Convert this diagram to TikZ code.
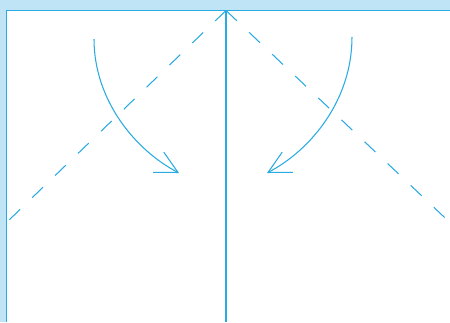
\documentclass[tikz,border=0pt]{standalone}
\usetikzlibrary{arrows.meta}

\definecolor{ciel}{HTML}{29ABE2}
\definecolor{pale}{HTML}{BEE4F6}

\begin{document}
\begin{tikzpicture}[x=0.02cm,y=-0.02cm,
  trait/.style={ciel,line width=0.6pt},
  pointille/.style={trait,dash pattern=on 8.5pt off 9.6pt},
  fleche/.style={trait,-{Straight Barb[length=12.5pt,width=13pt,line width=0.6pt]}}]

\useasboundingbox (0,0) rectangle (450,322);

% Bandes
\fill[pale] (0,0) rectangle (450,10.5);
\fill[pale] (0,0) rectangle (6.5,322);

% Cadre
\draw[ciel,line width=1.1pt] (6.5,322) -- (6.5,10.5) -- (450,10.5);

% Sommet et axe vertical
\coordinate (sommet) at (226,10.5);
\coordinate (bas) at (226,322);
\draw[trait] (sommet) -- (bas);

% Pointilles
\coordinate (gauche) at (6.5,222.5);
\coordinate (droite) at (450,222.6);
\draw[pointille] (sommet) -- (gauche);
\draw[pointille] (sommet) -- (droite);

% Rotation gauche
\coordinate (departG) at (94,39);
\coordinate (pointeG) at (179,173);
\draw[fleche] (departG)
.. controls (94,100) and (135,150)
.. (pointeG);

% Rotation droite
\coordinate (departD) at (352,37);
\coordinate (pointeD) at (267,173);
\draw[fleche] (departD)
.. controls (352,100) and (311,150)
.. (pointeD);

\end{tikzpicture}
\end{document}
